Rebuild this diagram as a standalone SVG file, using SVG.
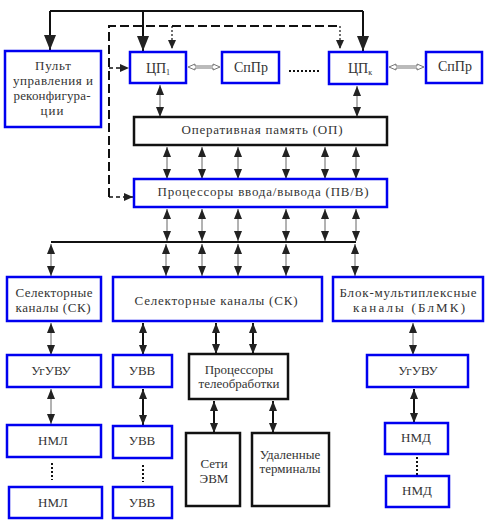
<svg xmlns="http://www.w3.org/2000/svg" width="491" height="525" viewBox="0 0 491 525">
<style>
.bb{fill:#fff;stroke:#0000f0;stroke-width:2.5}
.kb{fill:#fff;stroke:#111;stroke-width:2.5}
text{font-family:"Liberation Serif","Times New Roman",serif;font-size:13px;fill:#333;text-anchor:middle}
.big{font-size:14px}
.d{stroke:#666;stroke-width:1;fill:none;marker-start:url(#a);marker-end:url(#a)}
.dk{stroke:#111;stroke-width:2;fill:none;marker-start:url(#a);marker-end:url(#a)}
.sol{stroke:#111;stroke-width:2;fill:none}
.dash{stroke:#111;stroke-width:2;fill:none;stroke-dasharray:9 4}
.dot{stroke:#111;stroke-width:1.2;fill:none;stroke-dasharray:2 2}
.dots{stroke:#111;stroke-width:2;fill:none;stroke-dasharray:2 2}
.hol{fill:#fff;stroke:#666;stroke-width:0.9}
</style>
<defs>
<marker id="a" viewBox="0 0 10 8" refX="10" refY="4" markerWidth="10" markerHeight="8" markerUnits="userSpaceOnUse" orient="auto-start-reverse"><path d="M0,0L10,4L0,8z" fill="#222"/></marker>
<marker id="ab" viewBox="0 0 15 12" refX="15" refY="6" markerWidth="15" markerHeight="12" markerUnits="userSpaceOnUse" orient="auto"><path d="M0,0L15,6L0,12z" fill="#222"/></marker>
<marker id="as" viewBox="0 0 9 8" refX="9" refY="4" markerWidth="9" markerHeight="8" markerUnits="userSpaceOnUse" orient="auto"><path d="M0,0L9,4L0,8z" fill="#222"/></marker>
</defs>
<rect width="491" height="525" fill="#fff"/>

<g id="connectors">
<path class="sol" d="M50,11H363"/>
<line class="sol" x1="50" y1="11" x2="50" y2="50" marker-end="url(#ab)"/>
<line class="sol" x1="143" y1="11" x2="143" y2="51" marker-end="url(#ab)"/>
<line class="sol" x1="363" y1="11" x2="363" y2="51" marker-end="url(#ab)"/>
<path class="dash" d="M109,197V26H340"/>
<line class="dot" x1="172" y1="26" x2="172" y2="49" marker-end="url(#as)"/>
<line class="dot" x1="340" y1="26" x2="340" y2="49" marker-end="url(#as)"/>
<line class="dash" style="stroke-width:1.5;stroke-dasharray:4 3" x1="109" y1="68" x2="129" y2="68" marker-end="url(#as)"/>
<line class="dash" style="stroke-width:1.5;stroke-dasharray:4 3" x1="109" y1="197" x2="133" y2="197" marker-end="url(#as)"/>
<polygon class="hol" points="188,67 195,64 195,66 213,66 213,64 220,67 213,70 213,68 195,68 195,70"/>
<polygon class="hol" points="389,67 396,64 396,66 417,66 417,64 424,67 417,70 417,68 396,68 396,70"/>
<line class="dots" x1="289" y1="71" x2="320" y2="71"/>
<line class="d" x1="160" y1="85" x2="160" y2="117"/>
<line class="d" x1="357" y1="86" x2="357" y2="117"/>
<line class="d" x1="167" y1="147" x2="167" y2="179"/>
<line class="d" x1="202" y1="147" x2="202" y2="179"/>
<line class="d" x1="238" y1="147" x2="238" y2="179"/>
<line class="d" x1="286" y1="147" x2="286" y2="179"/>
<line class="d" x1="325" y1="147" x2="325" y2="179"/>
<line class="d" x1="356" y1="147" x2="356" y2="179"/>
<line class="d" x1="167" y1="209" x2="167" y2="241"/>
<line class="d" x1="202" y1="209" x2="202" y2="241"/>
<line class="d" x1="238" y1="209" x2="238" y2="241"/>
<line class="d" x1="286" y1="209" x2="286" y2="241"/>
<line class="d" x1="325" y1="209" x2="325" y2="241"/>
<line class="d" x1="356" y1="209" x2="356" y2="241"/>
<path class="sol" d="M51,242H356"/>
<line class="d" x1="51" y1="244" x2="51" y2="276"/>
<line class="d" x1="166" y1="244" x2="166" y2="276"/>
<line class="d" x1="202" y1="244" x2="202" y2="276"/>
<line class="d" x1="238" y1="244" x2="238" y2="276"/>
<line class="d" x1="286" y1="244" x2="286" y2="276"/>
<line class="d" x1="355" y1="244" x2="355" y2="276"/>
<line class="d" x1="51" y1="323" x2="51" y2="355"/>
<line class="dk" x1="143" y1="323" x2="143" y2="355"/>
<line class="dk" x1="216" y1="323" x2="216" y2="354"/>
<line class="dk" x1="253" y1="323" x2="253" y2="354"/>
<line class="d" x1="413" y1="323" x2="413" y2="355"/>
<line class="d" x1="51" y1="389" x2="51" y2="424"/>
<line class="dk" x1="143" y1="389" x2="143" y2="425"/>
<line class="dk" x1="214" y1="401" x2="214" y2="433"/>
<line class="dk" x1="273" y1="401" x2="273" y2="433"/>
<line class="dk" x1="414" y1="389" x2="414" y2="423"/>
<line class="dots" x1="52" y1="463" x2="52" y2="480"/>
<line class="dots" x1="143" y1="465" x2="143" y2="482"/>
<line class="dots" x1="417" y1="457" x2="417" y2="475"/>
</g>

<g id="pult"><rect class="bb" x="5" y="51" width="96" height="76"/>
<text x="53" y="70" textLength="36">Пульт</text>
<text x="53" y="85" textLength="80">управления и</text>
<text x="52" y="100" textLength="77">реконфигура-</text>
<text x="52" y="115" textLength="23">ции</text></g>

<g id="cp1"><rect class="bb" x="130" y="52" width="56" height="31"/>
<text class="big" x="158" y="73">ЦП<tspan font-size="8" dy="2">1</tspan></text></g>
<g id="sppr1"><rect class="bb" x="222" y="52" width="57" height="31"/>
<text class="big" x="251" y="72">СпПр</text></g>
<g id="cpk"><rect class="bb" x="329" y="52" width="58" height="32"/>
<text class="big" x="360" y="73">ЦП<tspan font-size="8" dy="2">к</tspan></text></g>
<g id="sppr2"><rect class="bb" x="426" y="52" width="56" height="31"/>
<text class="big" x="455" y="71">СпПр</text></g>

<g id="op"><rect class="kb" x="134" y="117" width="253" height="28"/>
<text x="262" y="134" textLength="161">Оперативная память (ОП)</text></g>
<g id="pvv"><rect class="bb" x="134" y="179" width="253" height="28"/>
<text x="263" y="196" textLength="211">Процессоры ввода/вывода (ПВ/В)</text></g>

<g id="sk1"><rect class="bb" x="7" y="277" width="94" height="44"/>
<text x="54" y="297" textLength="77">Селекторные</text>
<text x="53" y="312" textLength="75">каналы (СК)</text></g>
<g id="sk2"><rect class="bb" x="113" y="277" width="209" height="44"/>
<text x="216" y="305" textLength="163">Селекторные каналы (СК)</text></g>
<g id="blmk"><rect class="bb" x="333" y="277" width="150" height="44"/>
<text x="408" y="297" textLength="137">Блок-мультиплексные</text>
<text x="409" y="312" textLength="112">каналы (БлМК)</text></g>

<g id="uguvu1"><rect class="bb" x="7" y="355" width="94" height="32"/>
<text x="51" y="375">УгУВУ</text></g>
<g id="uvv1"><rect class="bb" x="113" y="355" width="59" height="32"/>
<text x="142" y="375">УВВ</text></g>
<g id="ptel"><rect class="kb" x="189" y="354" width="99" height="45"/>
<text x="239" y="374">Процессоры</text>
<text x="239" y="388">телеобработки</text></g>
<g id="uguvu2"><rect class="bb" x="367" y="355" width="101" height="32"/>
<text x="418" y="375">УгУВУ</text></g>

<g id="nml1"><rect class="bb" x="7" y="425" width="94" height="32"/>
<text x="53" y="445">НМЛ</text></g>
<g id="uvv2"><rect class="bb" x="113" y="426" width="59" height="32"/>
<text x="142" y="445">УВВ</text></g>
<g id="seti"><rect class="kb" x="186" y="433" width="54" height="73"/>
<text x="214" y="468">Сети</text>
<text x="214" y="483">ЭВМ</text></g>
<g id="term"><rect class="kb" x="252" y="433" width="77" height="73"/>
<text x="290" y="459">Удаленные</text>
<text x="290" y="473">терминалы</text></g>
<g id="nmd1"><rect class="bb" x="385" y="423" width="63" height="31"/>
<text x="416" y="442">НМД</text></g>

<g id="nml2"><rect class="bb" x="9" y="487" width="93" height="31"/>
<text x="53" y="507">НМЛ</text></g>
<g id="uvv3"><rect class="bb" x="113" y="487" width="59" height="31"/>
<text x="142" y="507">УВВ</text></g>
<g id="nmd2"><rect class="bb" x="386" y="476" width="63" height="31"/>
<text x="417" y="495">НМД</text></g>
</svg>
